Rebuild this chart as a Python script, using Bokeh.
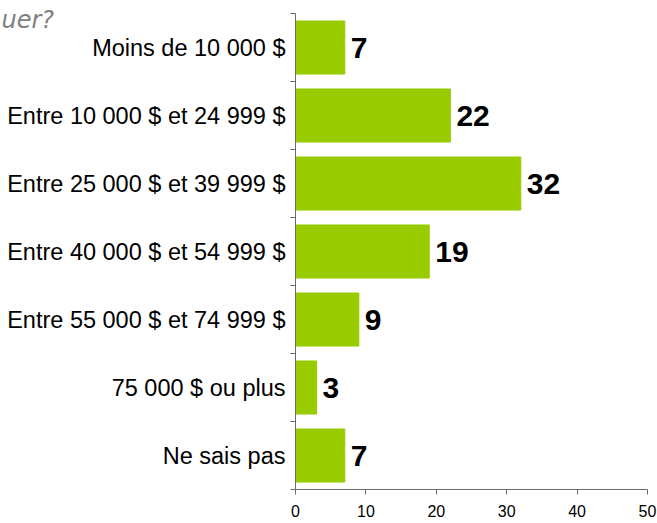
from bokeh.plotting import figure
from bokeh.models import FixedTicker, ColumnDataSource, Range1d
from bokeh.core.properties import value
from bokeh.embed import file_html
from bokeh.resources import INLINE

categories = ["Moins de 10 000 $", "Entre 10 000 $ et 24 999 $", "Entre 25 000 $ et 39 999 $",
              "Entre 40 000 $ et 54 999 $", "Entre 55 000 $ et 74 999 $", "75 000 $ ou plus", "Ne sais pas"]
values = [7, 22, 32, 19, 9, 3, 7]
x_ticks = [0, 10, 20, 30, 40, 50]
title_fragment = "uer?"

n = len(categories)
ypos = [n - i - 0.5 for i in range(n)]

src = ColumnDataSource(dict(y=ypos, v=values, lab=[str(v) for v in values]))

p = figure(width=657, height=523, output_backend="svg", toolbar_location=None,
           x_range=Range1d(0, 50), y_range=Range1d(0, n),
           min_border_left=295, min_border_right=10, min_border_top=13, min_border_bottom=34)
p.outline_line_color = None
p.xgrid.grid_line_color = None
p.ygrid.grid_line_color = None
p.background_fill_color = "white"
p.border_fill_color = "white"

p.hbar(y="y", right="v", left=0, height=0.78, source=src, fill_color="#99CC00", line_color="#99CC00")
p.text(x="v", y="y", text="lab", source=src, x_offset=6, text_baseline="middle", text_align="left",
       text_font=value("Liberation Sans"), text_font_style="bold", text_font_size="30px", text_color="black")

# y axis
ya = p.yaxis[0]
ya.ticker = FixedTicker(ticks=ypos, minor_ticks=list(range(n + 1)))
ya.major_label_overrides = {y: c for y, c in zip(ypos, categories)}
ya.major_tick_out = 0
ya.major_tick_in = 0
ya.minor_tick_out = 5
ya.minor_tick_in = 0
ya.minor_tick_line_color = "#6b6b6b"
ya.axis_line_color = "#6b6b6b"
ya.major_label_standoff = 5
ya.major_label_text_font = "Liberation Sans"
ya.major_label_text_font_size = "23.5px"
ya.major_label_text_color = "black"

# x axis
xa = p.xaxis[0]
xa.ticker = FixedTicker(ticks=x_ticks)
xa.major_tick_out = 5
xa.major_tick_in = 0
xa.minor_tick_line_color = None
xa.axis_line_color = "#6b6b6b"
xa.major_tick_line_color = "#6b6b6b"
xa.major_label_standoff = 10
xa.major_label_text_font = "Liberation Sans"
xa.major_label_text_font_size = "16px"
xa.major_label_text_color = "black"

# partial title (cut off at the left edge in the original)
p.text(x=[0], y=[n - 0.09], text=[title_fragment], x_offset=-294, level="overlay",
       text_font=value("DejaVu Sans"), text_font_style="italic", text_font_size="24px",
       text_color="#808080", text_baseline="alphabetic", text_align="left")

open("out.html", "w").write(file_html(p, INLINE))
